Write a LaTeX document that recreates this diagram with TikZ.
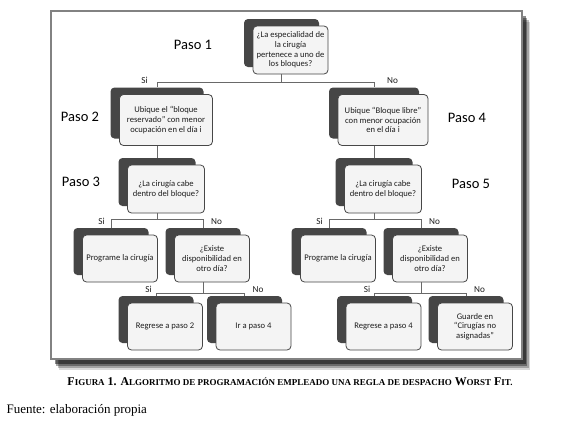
\documentclass[tikz,border=0pt]{standalone}
\usepackage{fontspec}
\setmainfont{Liberation Serif}
\newfontfamily\calibri{Carlito}
\usetikzlibrary{calc,shadows}
\definecolor{framegray}{RGB}{130,130,130}
\definecolor{backgray}{RGB}{70,70,70}
\definecolor{linegray}{RGB}{105,105,105}
\definecolor{boxink}{RGB}{30,30,30}
\definecolor{boxfill}{RGB}{244,244,244}
\newcommand{\capword}[2]{{\fontsize{11.9}{14}\selectfont #1}{\fontsize{9}{11}\selectfont #2}}
\tikzset{
  stepbox/.style={rectangle, rounded corners=4pt, draw=black!72, line width=0.8pt,
    fill=boxfill, text=boxink, font=\calibri\fontsize{8.6}{9.6}\selectfont,
    align=center, inner sep=0pt, minimum width=75pt, minimum height=47pt,
    copy shadow={shadow xshift=-9pt, shadow yshift=7pt, fill=backgray, draw=none}},
  conn/.style={draw=linegray, line width=0.9pt},
  branch/.style={font=\calibri\fontsize{9.2}{10}\selectfont, text=boxink, inner sep=0pt},
  paso/.style={font=\calibri\fontsize{14.5}{16}\selectfont, text=black},
}

\begin{document}
\begin{tikzpicture}[x=1pt,y=-1pt]
  \useasboundingbox (0,0) rectangle (580,426);

  % Frame with a soft shadow on the right and below.
  \coordinate (fTL) at (51,11);
  \coordinate (fBR) at (522,359);
  \foreach \d/\o in {11/0.15, 9/0.25, 7/0.35, 5/0.45} {
    \fill[black, opacity=\o] ($(fTL)+(0.75*\d,\d)$) rectangle ($(fBR)+(0.75*\d,\d)$);
  }
  \draw[framegray, line width=1.5pt, fill=white] (fTL) rectangle (fBR);

  % Paso 1
  \node[stepbox, minimum width=75pt, minimum height=48pt] (q1) at (290.5,50)
    {¿La especialidad de\\la cirugía\\pertenece a uno de\\los bloques?};
  \node[paso] (paso1) at (193,45) {Paso 1};

  % Paso 2 and Paso 4
  \node[stepbox, minimum width=93pt, minimum height=51pt] (p2) at (166,120)
    {Ubique el “bloque\\reservado” con menor\\ocupación en el día i};
  \node[stepbox, minimum width=90pt, minimum height=51pt] (p4) at (383,120)
    {Ubique “Bloque libre”\\con menor ocupación\\en el día i};
  \node[paso] (paso2) at (80,117) {Paso 2};
  \node[paso] (paso4) at (467,118) {Paso 4};

  % Paso 3 and Paso 5
  \node[stepbox, minimum width=77pt, minimum height=48pt] (p3) at (166,189)
    {¿La cirugía cabe\\dentro del bloque?};
  \node[stepbox, minimum width=77pt, minimum height=48pt] (p5) at (383,189)
    {¿La cirugía cabe\\dentro del bloque?};
  \node[paso] (paso3) at (81,182) {Paso 3};
  \node[paso] (paso5) at (471,184) {Paso 5};

  % Fourth row
  \node[stepbox] (progL) at (120,258.5) {Programe la cirugía};
  \node[stepbox] (existL) at (212,258.5) {¿Existe\\disponibilidad en\\otro día?};
  \node[stepbox] (progR) at (338,258.5) {Programe la cirugía};
  \node[stepbox] (existR) at (430,258.5) {¿Existe\\disponibilidad en\\otro día?};

  % Fifth row
  \node[stepbox] (regL) at (165,326.5) {Regrese a paso 2};
  \node[stepbox] (irL) at (253.5,326.5) {Ir a paso 4};
  \node[stepbox] (regR) at (383.5,326.5) {Regrese a paso 4};
  \node[stepbox] (guarde) at (475,326.5) {Guarde en\\“Cirugías no\\asignadas”};

  % Branches out of Paso 1
  \coordinate (j1) at ($(q1.south)+(-9,8)$);
  \draw[conn] ($(q1.south)+(-9,0)$) -- (j1);
  \draw[conn] ($(p2.north)+(-9,-7)$) |- (j1) -| ($(p4.north)+(-9,-7)$);
  \node[branch, anchor=base east] (si1) at ($(p2.north)+(-18,-11)$) {Si};
  \node[branch, anchor=base west] (no1) at ($(p4.north)+(4,-11)$) {No};

  % Paso 2 -> Paso 3, Paso 4 -> Paso 5
  \draw[conn] ($(p2.south)+(-9,0)$) -- ($(p3.north)+(-9,-7)$);
  \draw[conn] ($(p4.south)+(-9,0)$) -- ($(p5.north)+(-9,-7)$);

  % Branches out of Paso 3 and Paso 5
  \coordinate (j3) at ($(p3.south)+(-9,6)$);
  \draw[conn] ($(p3.south)+(-9,0)$) -- (j3);
  \draw[conn] ($(progL.north)+(-9,-7)$) |- (j3) -| ($(existL.north)+(-9,-7)$);
  \node[branch, anchor=base east] (si3) at ($(progL.north)+(-15,-10)$) {Si};
  \node[branch, anchor=base west] (no3) at ($(existL.north)+(-1,-10)$) {No};

  \coordinate (j5) at ($(p5.south)+(-9,6)$);
  \draw[conn] ($(p5.south)+(-9,0)$) -- (j5);
  \draw[conn] ($(progR.north)+(-9,-7)$) |- (j5) -| ($(existR.north)+(-9,-7)$);
  \node[branch, anchor=base east] (si5) at ($(progR.north)+(-15,-10)$) {Si};
  \node[branch, anchor=base west] (no5) at ($(existR.north)+(-1,-10)$) {No};

  % Branches out of the availability checks
  \coordinate (jL) at ($(existL.south)+(-9,11)$);
  \draw[conn] ($(existL.south)+(-9,0)$) -- (jL);
  \draw[conn] ($(regL.north)+(-9,-7)$) |- (jL) -| ($(irL.north)+(-9,-7)$);
  \node[branch, anchor=base east] (siL) at ($(regL.north)+(-13,-10)$) {Si};
  \node[branch, anchor=base west] (noL) at ($(irL.north)+(-1,-10)$) {No};

  \coordinate (jR) at ($(existR.south)+(-9,11)$);
  \draw[conn] ($(existR.south)+(-9,0)$) -- (jR);
  \draw[conn] ($(regR.north)+(-9,-7)$) |- (jR) -| ($(guarde.north)+(-9,-7)$);
  \node[branch, anchor=base east] (siR) at ($(regR.north)+(-13,-10)$) {Si};
  \node[branch, anchor=base west] (noR) at ($(guarde.north)+(-1,-10)$) {No};

  % Caption and source
  \node[font=\fontsize{11.9}{14}\selectfont\bfseries] (caption) at (290,382)
    {\capword{F}{IGURA} 1. \capword{A}{LGORITMO DE PROGRAMACIÓN EMPLEADO UNA REGLA DE DESPACHO} \capword{W}{ORST} \capword{F}{IT.}};
  \node[anchor=west, font=\fontsize{13}{15}\selectfont] (fuente) at (3,410)
    {Fuente: elaboración propia};
\end{tikzpicture}
\end{document}
